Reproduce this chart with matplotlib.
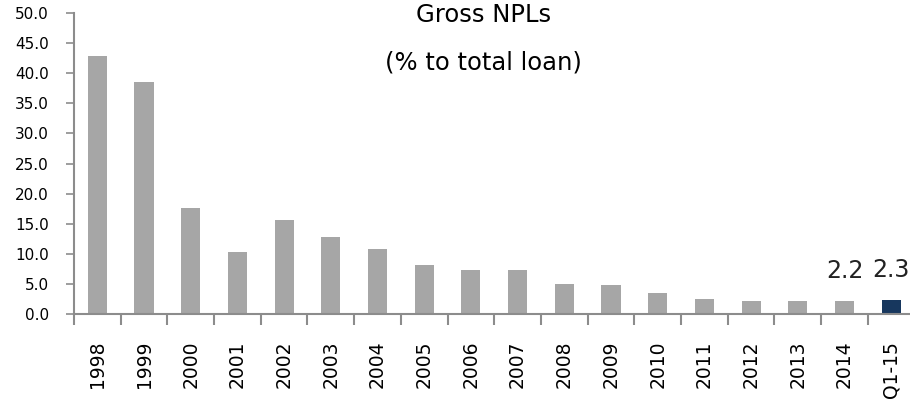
import matplotlib.pyplot as plt
import numpy as np

# Gross NPL ratio, % of total loans
periods = ["1998", "1999", "2000", "2001", "2002", "2003", "2004", "2005", "2006",
           "2007", "2008", "2009", "2010", "2011", "2012", "2013", "2014", "Q1-15"]
npl_ratio = [42.8, 38.5, 17.7, 10.4, 15.7, 12.8, 10.9, 8.2, 7.4,
             7.3, 5.1, 4.8, 3.5, 2.6, 2.2, 2.2, 2.2, 2.3]
labelled = ["2014", "Q1-15"]

GREY = "#A6A6A6"
NAVY = "#17375E"
AXIS = "#8C8C8C"

fig = plt.figure(figsize=(9.10, 4.01), dpi=100)
ax = fig.add_axes([0.0813, 0.2162, 0.9237, 0.752])

x = np.arange(len(periods))
colors = [NAVY if p == "Q1-15" else GREY for p in periods]
ax.bar(x, npl_ratio, width=0.41, color=colors, zorder=2)

for p, v in zip(periods, npl_ratio):
    if p in labelled:
        ax.annotate(f"{v:.1f}", (periods.index(p), v), xytext=(0, 13),
                    textcoords="offset points", ha="center", va="bottom",
                    fontsize=17, color="#222222")

ax.set_xlim(-0.5, len(periods) - 0.5)
ax.set_ylim(0, 50)
ax.set_yticks(np.arange(0, 50.1, 5))
ax.set_yticklabels([f"{t:.1f}" for t in np.arange(0, 50.1, 5)])

# boundary ticks on the category axis, labels centred under bars
ax.set_xticks(np.arange(-0.5, len(periods), 1))
ax.set_xticklabels([])
ax.set_xticks(x, minor=True)
ax.set_xticklabels(periods, minor=True, rotation=90, fontsize=13.5)
ax.tick_params(axis="x", which="major", length=8, width=1.5, color=AXIS, direction="out")
ax.tick_params(axis="x", which="minor", length=0, pad=19)
ax.tick_params(axis="y", length=6, width=1.2, color=AXIS, pad=12, labelsize=11)

for side in ["top", "right"]:
    ax.spines[side].set_visible(False)
for side in ["left", "bottom"]:
    ax.spines[side].set_color(AXIS)
    ax.spines[side].set_linewidth(1.5)

fig.text(0.531, 0.962, "Gross NPLs", ha="center", va="center", fontsize=17.5)
fig.text(0.531, 0.843, "(% to total loan)", ha="center", va="center", fontsize=17.5)

fig.savefig("out.png", dpi=100)
